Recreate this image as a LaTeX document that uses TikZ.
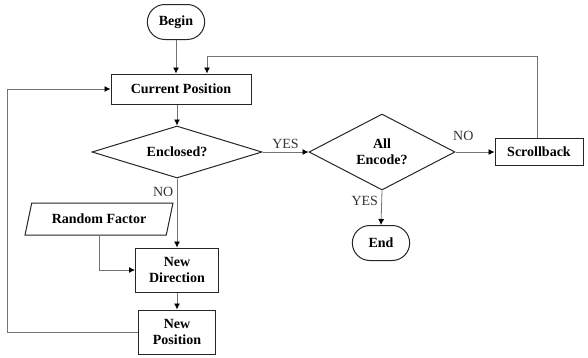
\documentclass[tikz,border=0pt]{standalone}
\usepackage{fontspec}
\setmainfont{Liberation Serif}
\usetikzlibrary{shapes.geometric, shapes.misc, arrows.meta}

\begin{document}
\begin{tikzpicture}[
    x=1pt, y=-1pt,
    >={Latex[length=6pt, width=6pt, color=black]},
    line/.style={draw=black!55, line width=0.8pt},
    terminal/.style={draw=black!85, line width=1pt, rounded rectangle, minimum width=64pt, minimum height=35pt, font=\fontsize{14}{16}\selectfont\bfseries},
    process/.style={draw=black!85, line width=1pt, rectangle, align=center, inner sep=2pt, font=\fontsize{14}{16}\selectfont\bfseries},
    decision/.style={draw=black!85, line width=1pt, diamond, align=center, inner sep=0pt, font=\fontsize{14}{16}\selectfont\bfseries},
    inout/.style={draw=black!85, line width=1pt, trapezium, trapezium left angle=73, trapezium right angle=107, trapezium stretches=true, font=\fontsize{14}{16}\selectfont\bfseries},
    tag/.style={font=\fontsize{14}{16}\selectfont, text=black!80}
]
\useasboundingbox (0,0) rectangle (588,357);

% -------------------------
% Main Column
% -------------------------
\node[terminal] (Begin) at (176, 22) {Begin};
\node[process, minimum width=140pt, minimum height=30pt] (CurPos) at (181, 89) {Current Position};
\node[decision, minimum width=170pt, minimum height=52pt, shape aspect=3.3] (Enclosed) at (177, 152) {Enclosed?};
\node[process, minimum width=83pt, minimum height=44pt] (NewDir) at (177, 270) {New\\Direction};
\node[process, minimum width=77pt, minimum height=44pt] (NewPos) at (177, 332) {New\\Position};
\node[inout, minimum width=148pt, minimum height=32pt] (Random) at (99, 219) {Random Factor};

% -------------------------
% Right Branch
% -------------------------
\node[decision, minimum width=146pt, minimum height=76pt, shape aspect=1.9] (AllEnc) at (382, 152) {All\\Encode?};
\node[terminal] (End) at (381, 243) {End};
\node[process, minimum width=88pt, minimum height=27pt] (Scroll) at (539, 152) {Scrollback};

% -------------------------
% Helper Coordinates
% -------------------------
\coordinate (TopTurn) at (537, 56);
\coordinate (LeftTurn) at (7, 332);

% -------------------------
% Connectors
% -------------------------
\draw[line, ->] (Begin.south) -- (Begin.south |- CurPos.north);
\draw[line, ->] (Enclosed.north |- CurPos.south) -- (Enclosed.north);
\draw[line, ->] (Enclosed.east) -- node[tag, above] {YES} (AllEnc.west);
\draw[line, ->] (AllEnc.east) -- node[tag, above=8pt, pos=0.2] {NO} (Scroll.west);
\draw[line, ->] (AllEnc.south) -- node[tag, left, pos=0.3] {YES} (End.north);
\draw[line, ->] (Enclosed.south) -- node[tag, left, pos=0.2] {NO} (NewDir.north);
\draw[line, ->] (Random.south) |- (NewDir.west);
\draw[line, ->] (NewDir.south) -- (NewPos.north);

% loops back
\draw[line, ->] (Scroll.north -| TopTurn) -- (TopTurn) -| ([xshift=26pt]CurPos.north);
\draw[line, ->] (NewPos.west) -- (LeftTurn) |- (CurPos.west);

\end{tikzpicture}
\end{document}
